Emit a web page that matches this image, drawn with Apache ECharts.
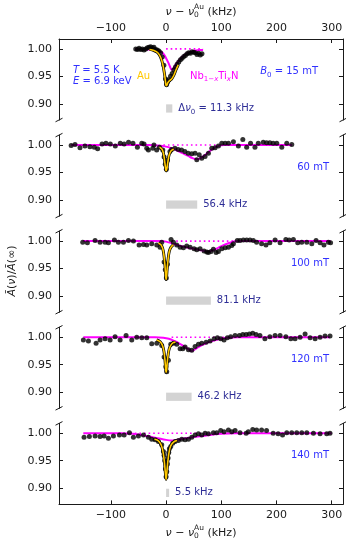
<!DOCTYPE html>
<html>
<head>
<meta charset="utf-8">
<script src="https://cdn.jsdelivr.net/npm/echarts@6/dist/echarts.min.js"></script>
<style>
html, body { margin: 0; padding: 0; background: #fff; }
#c { width: 346px; height: 540px; }
</style>
</head>
<body>
<div id="c"></div>
<script>
// ---------- values ----------
const fieldLabels = ['15 mT', '60 mT', '100 mT', '120 mT', '140 mT'];
const lineWidths = [11.3, 56.4, 81.1, 46.2, 5.5];      // Δν0 (kHz)
const xTicks = [-100, 0, 100, 200, 300];
const yTicks = [0.90, 0.95, 1.00];
const barSpan = [0.884, 0.899];                          // vertical extent of the Δν0 bar

// 15 mT
const pts15 = [[-55,1.000],[-52,0.999],[-49,1.001],[-46,0.999],[-43,1.000],[-40,0.998],[-37,1.000],[-34,1.002],[-31,1.003],[-28,1.004],[-25,1.002],[-22,1.003],[-19,0.999],[-16,0.998],[-13,0.996],[-10,0.993],[-7,0.985],[-4,0.970],[-1,0.945],[1,0.935],[3,0.940],[5,0.944],[8,0.950],[11,0.955],[14,0.962],[17,0.967],[20,0.972],[23,0.976],[26,0.980],[29,0.983],[32,0.986],[35,0.988],[38,0.991],[41,0.993],[44,0.992],[47,0.995],[50,0.994],[53,0.993],[56,0.990],[59,0.992],[62,0.989],[65,0.991]];
const nb15 = [[-56,1.0],[-30,0.999],[-15,0.997],[-8,0.994],[-4,0.990],[0,0.983],[4,0.975],[7,0.968],[10,0.962],[13,0.964],[16,0.969],[20,0.975],[25,0.981],[30,0.986],[35,0.990],[40,0.993],[50,0.996],[60,0.998],[67,0.998]];
const au15 = [[-30,0.999],[-22,0.997],[-15,0.993],[-10,0.985],[-6,0.972],[-3,0.955],[-1,0.940],[0,0.933],[1.5,0.934],[3,0.938],[6,0.942],[10,0.945],[14,0.952],[18,0.962],[22,0.971]];
const dot15 = [[0,1],[67,1]];

// 60 mT
const pts60 = [[-172,0.999],[-165,1.001],[-156,0.995],[-147,0.998],[-138,0.997],[-130,0.996],[-124,0.993],[-116,1.002],[-109,1.003],[-101,1.002],[-92,0.998],[-83,1.003],[-76,1.002],[-68,1.005],[-60,1.003],[-52,0.996],[-44,1.003],[-40,1.002],[-35,0.994],[-32,0.991],[-24,0.994],[-22,1.000],[-17,0.991],[-12,0.996],[-6,0.991],[-3.6,0.978],[-1.5,0.965],[0.5,0.956],[2.5,0.972],[7,0.988],[10,0.992],[16,0.994],[22,0.992],[28,0.991],[34,0.988],[40,0.985],[46.5,0.984],[52.5,0.985],[55.6,0.973],[60,0.982],[64.6,0.976],[70.6,0.979],[76.7,0.985],[82.8,0.994],[88.8,0.995],[94.8,0.998],[100.9,1.003],[107,1.003],[113,1.003],[122,1.006],[131,0.998],[139,1.010],[146,0.996],[153,1.003],[161,0.996],[167,1.003],[176,1.005],[182,1.004],[188,1.004],[194,1.003],[200.5,1.003],[209.6,0.996],[218.6,1.003],[227.7,1.001]];
const nb60 = [[-172,1.0],[-30,1.0],[-15,0.999],[0,0.997],[10,0.994],[20,0.990],[30,0.985],[40,0.980],[48,0.976],[55,0.974],[62,0.976],[70,0.981],[78,0.988],[86,0.994],[94,0.998],[105,1.0],[228,1.0]];
const au60 = [[-12,0.996],[-8,0.993],[-5,0.986],[-3,0.974],[-1.5,0.962],[0,0.953],[1.5,0.957],[3,0.968],[5,0.980],[8,0.988],[11,0.991],[14,0.992]];
const dot60 = [[-5,1],[90,1]];

// 100 mT
const pts100 = [[-151,0.998],[-142.5,0.997],[-128.6,1.001],[-119.6,0.998],[-110.5,0.998],[-104.5,0.997],[-93.6,1.002],[-86.4,0.998],[-77.3,0.998],[-68.2,1.001],[-59.2,1.000],[-48.9,0.993],[-41,0.994],[-35,0.993],[-26,0.995],[-16.9,0.993],[-10.9,0.989],[-7.9,0.998],[-3.6,0.962],[-1.5,0.948],[0.5,0.933],[2.5,0.958],[9,1.003],[13.3,0.998],[19.3,0.993],[25.4,0.989],[31.4,0.988],[37.4,0.991],[43.5,0.989],[50.7,0.986],[55.6,0.984],[61.6,0.986],[68.8,0.982],[73.7,0.980],[76.7,0.979],[81.5,0.981],[85.7,0.985],[90.6,0.979],[94.8,0.981],[100.9,0.986],[107,0.988],[113,0.989],[119,0.992],[122,0.995],[129,1.001],[134,1.001],[140,1.002],[146,1.002],[152,1.002],[158,1.001],[164,0.998],[173,0.995],[181,0.993],[188,0.997],[197.5,1.002],[206.5,0.997],[217,1.003],[223,1.002],[230.6,1.003],[238.5,0.997],[245.8,0.998],[254.9,0.998],[264,0.995],[271.7,1.001],[279,0.997],[286,0.993],[294,0.998],[298,0.997]];
const nb100 = [[-151,1.0],[-10,1.0],[0,0.999],[10,0.996],[20,0.993],[30,0.990],[40,0.988],[50,0.986],[60,0.984],[70,0.982],[77,0.981],[85,0.983],[95,0.988],[105,0.993],[115,0.997],[125,0.9995],[140,1.0],[298,1.0]];
const au100 = [[-14,0.996],[-9,0.993],[-6,0.986],[-4,0.975],[-2,0.955],[-1,0.940],[0,0.930],[1,0.936],[2,0.950],[4,0.970],[6,0.982],[9,0.989],[13,0.993]];
const dot100 = [[10,1],[125,1]];

// 120 mT
const pts120 = [[-149.8,0.995],[-140.7,0.993],[-126.8,0.989],[-119.6,0.995],[-110.5,0.997],[-101.4,0.995],[-92.4,1.001],[-83.3,0.995],[-72.5,1.003],[-62.2,0.995],[-53.1,1.000],[-44,0.999],[-35,0.999],[-26,0.988],[-16.9,0.989],[-7.9,0.985],[-3.6,0.964],[-0.6,0.946],[1.2,0.937],[4.2,0.958],[8.5,0.987],[13.3,0.989],[19.3,0.987],[25.4,0.979],[30.2,0.979],[34.4,0.982],[40.5,0.977],[46.5,0.976],[52.5,0.983],[58.6,0.987],[64.6,0.989],[72.5,0.991],[79.7,0.993],[87,0.997],[93,0.999],[99,0.997],[105,0.995],[111,0.999],[117,1.001],[125,1.003],[132.8,1.003],[139,1.005],[145,1.005],[151,1.006],[157,1.007],[163,1.005],[170,1.003],[179,0.997],[188,1.001],[197.5,1.003],[206.5,1.003],[217,1.001],[226,0.997],[233.7,0.997],[242.8,1.000],[251.8,1.006],[260.9,0.999],[270,0.997],[279,1.000],[288,1.002],[297,1.002]];
const nb120 = [[-150,1.0],[-20,1.0],[-5,0.999],[5,0.997],[15,0.993],[25,0.988],[35,0.982],[42,0.977],[46.5,0.975],[52,0.978],[60,0.983],[70,0.988],[80,0.992],[95,0.996],[110,0.999],[130,1.0],[297,1.0]];
const au120 = [[-17,0.995],[-11,0.992],[-7,0.986],[-4,0.975],[-2,0.958],[-1,0.945],[0,0.936],[1,0.940],[2,0.953],[4,0.970],[6,0.980],[9,0.986],[13,0.990],[17,0.991]];
const dot120 = [[10,1],[110,1]];

// 140 mT
const pts140 = [[-148.6,0.993],[-139,0.994],[-128.6,0.995],[-119.6,0.994],[-112.3,0.995],[-104.5,0.991],[-95.4,0.995],[-84.5,0.997],[-76,0.997],[-66.4,1.001],[-59.2,0.993],[-50.1,0.995],[-41,0.997],[-32,0.993],[-26,0.989],[-19.9,0.988],[-13.9,0.985],[-7.9,0.979],[-4.8,0.967],[-3.6,0.960],[-2.4,0.950],[-1.2,0.935],[0,0.921],[1.2,0.930],[2.4,0.944],[3.6,0.955],[4.8,0.965],[6,0.972],[8.5,0.976],[12,0.982],[16.3,0.985],[22.3,0.987],[28.4,0.989],[34.4,0.988],[40.5,0.989],[46.5,0.993],[52.5,0.997],[58.6,0.999],[64.6,0.997],[70.7,1.000],[76.7,0.999],[85.7,1.001],[91.8,1.001],[99,1.005],[105,1.003],[112.9,1.006],[119,1.003],[125,1.005],[134,1.001],[145,1.000],[149,1.003],[157,1.007],[164,1.006],[173,1.006],[182,1.005],[194,1.000],[203,0.999],[211,0.997],[218.6,1.001],[227.6,1.001],[236.7,1.001],[245.8,1.001],[254.9,1.001],[266.9,1.000],[279,0.999],[291,0.999],[297,1.000]];
const nb140 = [[-150,1.0],[-80,1.0],[-60,0.999],[-45,0.997],[-30,0.994],[-15,0.991],[0,0.988],[10,0.987],[20,0.988],[35,0.991],[50,0.993],[65,0.995],[80,0.997],[100,0.999],[125,1.0],[300,1.0]];
const au140 = [[-21,0.989],[-15,0.987],[-10,0.981],[-7,0.973],[-5,0.963],[-3,0.947],[-1.5,0.930],[0,0.916],[1.5,0.930],[3,0.947],[5,0.963],[7,0.973],[10,0.980],[15,0.985],[20,0.987]];
const dot140 = [[-65,1],[135,1]];

// ---------- layout & style ----------
const xMin = -194, xMax = 320.5;
const yMin = 0.8705, yMax = 1.018;
const plotLeft = 59, plotWidth = 284;
const panelTop = [39, 135.1, 231.2, 327.3, 423.4];
const panelH = 81;

const FONT = '"DejaVu Sans", sans-serif';
const MAG = '#ff00ff', GOLD = '#ffc800', BLUE = '#3232ff', NAVY = '#2d2d96', INK = '#1a1a1a';

const panels = [
  { pts: pts15,  nb: nb15,  au: au15,  dot: dot15 },
  { pts: pts60,  nb: nb60,  au: au60,  dot: dot60 },
  { pts: pts100, nb: nb100, au: au100, dot: dot100 },
  { pts: pts120, nb: nb120, au: au120, dot: dot120 },
  { pts: pts140, nb: nb140, au: au140, dot: dot140 }
];

const txt = (size, extra) => Object.assign({ fontFamily: FONT, fontSize: size }, extra || {});
const minusFmt = v => (v < 0 ? '\u2212' + Math.abs(v) : String(v));

const grid = panelTop.map(t => ({ left: plotLeft, width: plotWidth, top: t, height: panelH }));

const xAxis = panelTop.map((t, i) => ({
  gridIndex: i,
  type: 'value',
  min: xMin, max: xMax,
  show: i === 0 || i === 4,
  position: i === 0 ? 'top' : 'bottom',
  axisLine: { show: true, onZero: false, lineStyle: { color: INK, width: 1 } },
  axisTick: { show: true, inside: true, length: 4, customValues: xTicks, lineStyle: { color: INK, width: 1 } },
  axisLabel: { show: true, customValues: xTicks, formatter: minusFmt, margin: 5, color: INK, fontFamily: FONT, fontSize: 11 },
  splitLine: { show: false }
}));

const yAxis = [];
panelTop.forEach((t, i) => {
  ['left', 'right'].forEach(side => {
    yAxis.push({
      gridIndex: i,
      type: 'value',
      min: yMin, max: yMax,
      position: side,
      axisLine: { show: true, onZero: false, lineStyle: { color: INK, width: 1 } },
      axisTick: { show: true, inside: true, length: 4, customValues: yTicks, lineStyle: { color: INK, width: 1 } },
      axisLabel: {
        show: side === 'left', customValues: yTicks, formatter: v => v.toFixed(2),
        margin: 7, color: INK, fontFamily: FONT, fontSize: 11
      },
      splitLine: { show: false }
    });
  });
});

const subRich = {
  a: txt(10, { color: NAVY, lineHeight: 14 }),
  ai: txt(10, { color: NAVY, lineHeight: 14, fontStyle: 'italic' }),
  s: txt(7, { color: NAVY, lineHeight: 8, verticalAlign: 'bottom' })
};

const series = [];
panels.forEach((p, i) => {
  const ax = { xAxisIndex: i, yAxisIndex: 2 * i };
  const w = lineWidths[i];
  series.push({
    type: 'line', ...ax, data: p.dot, symbol: 'none', silent: true, z: 1,
    lineStyle: { color: MAG, width: 1.6, type: [1.6, 3] }
  });
  series.push({
    type: 'line', ...ax, data: p.nb, symbol: 'none', smooth: 0.35, silent: true, z: 2,
    lineStyle: { color: MAG, width: 2 }
  });
  series.push({
    type: 'scatter', ...ax, data: p.pts, symbolSize: 5, silent: true, z: 3,
    itemStyle: { color: '#000' },
    markArea: {
      silent: true,
      itemStyle: { color: '#d3d3d3' },
      label: {
        show: true, position: 'right', distance: 6,
        formatter: i === 0 ? '{a|Δ}{ai|ν}{s|0}{a| = ' + w + ' kHz}' : '{a|' + w + ' kHz}',
        rich: subRich
      },
      data: [[{ coord: [0, barSpan[0]] }, { coord: [w, barSpan[1]] }]]
    }
  });
  series.push({
    type: 'line', ...ax, data: p.au, symbol: 'none', smooth: 0.3, silent: true, z: 4,
    lineStyle: { color: '#000', width: 2.9 }
  });
  series.push({
    type: 'line', ...ax, data: p.au, symbol: 'none', smooth: 0.3, silent: true, z: 5,
    lineStyle: { color: GOLD, width: 1.6 }
  });
});

// ---------- text pieces ----------
const ctx = document.createElement('canvas').getContext('2d');
function tw(text, size, style) {
  ctx.font = (style || 'normal') + ' ' + size + 'px "DejaVu Sans"';
  return ctx.measureText(text).width;
}

// "ν − ν0^Au (kHz)" with stacked sub/superscript
function axisTitle(cx, cy) {
  const fs = 11, ss = 7.5;
  const wNu = tw('ν', fs, 'italic'), wMinus = tw(' \u2212 ', fs), wK = tw(' (kHz)', fs);
  const wSS = Math.max(tw('Au', ss), tw('0', ss));
  const total = 2 * wNu + wMinus + wSS + wK;
  let x = cx - total / 2;
  const els = [];
  const add = (text, size, style, dy) => els.push({
    type: 'text', x: x, y: cy + dy, silent: true,
    style: { text: text, fill: INK, font: style + ' ' + size + 'px "DejaVu Sans"', textAlign: 'left', textVerticalAlign: 'middle' }
  });
  add('ν', fs, 'italic', 0); x += wNu;
  add(' \u2212 ', fs, 'normal', 0); x += wMinus;
  add('ν', fs, 'italic', 0); x += wNu;
  add('Au', ss, 'normal', -4.5); add('0', ss, 'normal', 3.5); x += wSS;
  add(' (kHz)', fs, 'normal', 0);
  return els;
}

const labelRich = (color) => ({
  n: txt(10, { color: color, lineHeight: 14 }),
  i: txt(10, { color: color, lineHeight: 14, fontStyle: 'italic' }),
  s: txt(7, { color: color, lineHeight: 8, verticalAlign: 'bottom' }),
  si: txt(7, { color: color, lineHeight: 8, verticalAlign: 'bottom', fontStyle: 'italic' })
});

function richText(x, y, text, color, align) {
  return {
    type: 'text', x: x, y: y, silent: true,
    style: { text: text, rich: labelRich(color), textAlign: align || 'left', textVerticalAlign: 'middle', fill: color, font: '10px "DejaVu Sans"' }
  };
}

const graphics = [];
// axis titles
axisTitle(plotLeft + plotWidth / 2, 12).forEach(e => graphics.push(e));
axisTitle(plotLeft + plotWidth / 2, 533).forEach(e => graphics.push(e));
graphics.push({
  type: 'text', x: 12, y: 271, rotation: Math.PI / 2, silent: true,
  style: {
    text: '{i|Ā}{n|(}{i|ν}{n|)/}{i|Ā}{n|(∞)}',
    rich: { n: txt(11, { color: INK }), i: txt(11, { color: INK, fontStyle: 'italic' }) },
    textAlign: 'center', textVerticalAlign: 'middle', fill: INK, font: '11px "DejaVu Sans"'
  }
});

// panel annotations
const t0 = panelTop[0];
graphics.push(richText(73, t0 + 31.7, '{i|T}{n| = 5.5 K}', BLUE));
graphics.push(richText(73, t0 + 42, '{i|E}{n| = 6.9 keV}', BLUE));
graphics.push(richText(137, t0 + 37, '{n|Au}', GOLD));
graphics.push(richText(190, t0 + 37, '{n|Nb}{s|1\u2212}{si|x}{n|Ti}{si|x}{n|N}', MAG));
graphics.push(richText(318, t0 + 32.7, '{i|B}{s|0}{n| = ' + fieldLabels[0] + '}', BLUE, 'right'));
for (let i = 1; i < 5; i++) {
  graphics.push(richText(329, panelTop[i] + 32.2, '{n|' + fieldLabels[i] + '}', BLUE, 'right'));
}

// broken-axis marks at the open spine ends
panelTop.forEach((t, i) => {
  const ends = [];
  if (i > 0) ends.push(t);
  if (i < 4) ends.push(t + panelH);
  ends.forEach(y => [plotLeft, plotLeft + plotWidth].forEach(x => graphics.push({
    type: 'line', silent: true,
    shape: { x1: x - 3.5, y1: y + 1.8, x2: x + 3.5, y2: y - 1.8 },
    style: { stroke: INK, lineWidth: 1 }
  })));
});

const chart = echarts.init(document.getElementById('c'), null, { renderer: 'canvas' });
chart.setOption({
  animation: false,
  backgroundColor: '#ffffff',
  grid: grid,
  xAxis: xAxis,
  yAxis: yAxis,
  series: series,
  graphic: { elements: graphics }
});
</script>
</body>
</html>
